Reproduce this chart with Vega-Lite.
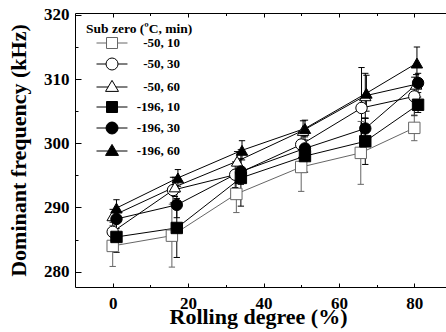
{
  "$schema": "https://vega.github.io/schema/vega-lite/v6.json",
  "width": 377,
  "height": 274,
  "autosize": {"type": "none"},
  "padding": {"left": 75, "top": 13, "right": 0, "bottom": 45},
  "background": "white",
  "config": {
    "font": "Times New Roman",
    "view": {"stroke": null},
    "axis": {
      "grid": false,
      "domainColor": "black",
      "tickColor": "black",
      "labelColor": "black",
      "titleColor": "black",
      "labelFont": "Times New Roman",
      "titleFont": "Times New Roman",
      "labelFontWeight": "bold",
      "titleFontWeight": "bold",
      "labelFontSize": 17,
      "titleFontSize": 22,
      "domainWidth": 1,
      "tickWidth": 1
    }
  },
  "data": {
    "values": [
      {"cond": "-50, 10", "time": "10", "x": 0, "y": 284.0, "lo": 280.8, "hi": 287.2},
      {"cond": "-50, 10", "time": "10", "x": 15.7, "y": 285.6, "lo": 280.7, "hi": 290.5},
      {"cond": "-50, 10", "time": "10", "x": 32.8, "y": 292.1, "lo": 289.2, "hi": 295.0},
      {"cond": "-50, 10", "time": "10", "x": 50, "y": 296.3, "lo": 292.5, "hi": 300.1},
      {"cond": "-50, 10", "time": "10", "x": 65.8, "y": 298.5, "lo": 293.6, "hi": 303.4},
      {"cond": "-50, 10", "time": "10", "x": 80, "y": 302.4, "lo": 300.4, "hi": 304.4},
      {"cond": "-50, 30", "time": "30", "x": 0, "y": 286.2, "lo": 284.2, "hi": 288.2},
      {"cond": "-50, 30", "time": "30", "x": 16, "y": 292.7, "lo": 290.7, "hi": 294.7},
      {"cond": "-50, 30", "time": "30", "x": 32.5, "y": 295.1, "lo": 293.1, "hi": 297.1},
      {"cond": "-50, 30", "time": "30", "x": 50, "y": 299.8, "lo": 297.8, "hi": 301.8},
      {"cond": "-50, 30", "time": "30", "x": 66, "y": 305.5, "lo": 299.2, "hi": 311.8},
      {"cond": "-50, 30", "time": "30", "x": 80, "y": 307.3, "lo": 304.3, "hi": 310.3},
      {"cond": "-50, 60", "time": "60", "x": 0, "y": 288.7, "lo": 287.7, "hi": 289.7},
      {"cond": "-50, 60", "time": "60", "x": 16.5, "y": 293.2, "lo": 291.7, "hi": 294.7},
      {"cond": "-50, 60", "time": "60", "x": 33, "y": 297.2, "lo": 295.7, "hi": 298.7},
      {"cond": "-50, 60", "time": "60", "x": 50.5, "y": 302.0, "lo": 300.5, "hi": 303.5},
      {"cond": "-50, 60", "time": "60", "x": 67, "y": 307.4, "lo": 303.9, "hi": 310.9},
      {"cond": "-50, 60", "time": "60", "x": 80.5, "y": 309.2, "lo": 307.7, "hi": 310.7},
      {"cond": "-196, 10", "time": "10", "x": 1, "y": 285.4, "lo": 283.0, "hi": 287.8},
      {"cond": "-196, 10", "time": "10", "x": 17, "y": 286.8, "lo": 282.2, "hi": 291.4},
      {"cond": "-196, 10", "time": "10", "x": 34, "y": 294.6, "lo": 290.2, "hi": 299.0},
      {"cond": "-196, 10", "time": "10", "x": 51, "y": 298.0, "lo": 295.5, "hi": 300.5},
      {"cond": "-196, 10", "time": "10", "x": 67, "y": 300.3, "lo": 296.7, "hi": 303.9},
      {"cond": "-196, 10", "time": "10", "x": 81, "y": 306.0, "lo": 304.8, "hi": 307.2},
      {"cond": "-196, 30", "time": "30", "x": 1, "y": 288.2, "lo": 286.7, "hi": 289.7},
      {"cond": "-196, 30", "time": "30", "x": 17, "y": 290.4, "lo": 288.4, "hi": 292.4},
      {"cond": "-196, 30", "time": "30", "x": 34, "y": 295.6, "lo": 293.6, "hi": 297.6},
      {"cond": "-196, 30", "time": "30", "x": 51, "y": 299.2, "lo": 297.2, "hi": 301.2},
      {"cond": "-196, 30", "time": "30", "x": 67, "y": 302.3, "lo": 300.7, "hi": 303.9},
      {"cond": "-196, 30", "time": "30", "x": 81, "y": 309.4, "lo": 307.9, "hi": 310.9},
      {"cond": "-196, 60", "time": "60", "x": 1, "y": 289.9, "lo": 288.6, "hi": 291.2},
      {"cond": "-196, 60", "time": "60", "x": 17.3, "y": 294.6, "lo": 293.3, "hi": 295.9},
      {"cond": "-196, 60", "time": "60", "x": 34.3, "y": 298.9, "lo": 297.4, "hi": 300.4},
      {"cond": "-196, 60", "time": "60", "x": 51, "y": 302.3, "lo": 301.0, "hi": 303.6},
      {"cond": "-196, 60", "time": "60", "x": 67.3, "y": 307.8, "lo": 305.0, "hi": 310.6},
      {"cond": "-196, 60", "time": "60", "x": 80.7, "y": 312.5, "lo": 310.0, "hi": 315.0}
    ]
  },
  "layer": [
    {
      "mark": {"type": "rule", "strokeWidth": 1},
      "encoding": {
        "x": {"field": "x", "type": "quantitative", "scale": {"domain": [-10, 90], "nice": false, "zero": false},
          "axis": {
            "orient": "bottom",
            "values": [0, 10, 20, 30, 40, 50, 60, 70, 80],
            "labelExpr": "datum.value % 20 === 0 ? datum.label : ''",
            "tickSize": {"condition": {"test": "datum.value % 20 === 0", "value": -4}, "value": -2.5},
            "labelPadding": 12,
            "title": "Rolling degree (%)",
            "titlePadding": -5,
            "titleX": 183
          }},
        "y": {"field": "lo", "type": "quantitative", "scale": {"domain": [277.6, 320.3], "nice": false, "zero": false},
          "axis": {
            "orient": "left",
            "values": [280, 285, 290, 295, 300, 305, 310, 315, 320],
            "labelExpr": "datum.value % 10 === 0 ? datum.label : ''",
            "tickSize": {"condition": {"test": "datum.value % 10 === 0", "value": -6}, "value": -3},
            "labelPadding": 12,
            "title": "Dominant frequency (kHz)",
            "titlePadding": 13
          }},
        "y2": {"field": "hi"},
        "stroke": {"field": "cond", "type": "nominal",
          "scale": {"domain": ["-50, 10", "-50, 30", "-50, 60", "-196, 10", "-196, 30", "-196, 60"],
                    "range": ["#666666", "#000000", "#000000", "#000000", "#000000", "#000000"]},
          "legend": {
            "title": "Sub zero (ºC, min)",
            "orient": "none",
            "legendX": 11,
            "legendY": 9,
            "titleFont": "Times New Roman",
            "titleFontSize": 13.5,
            "titleFontWeight": "bold",
            "titleColor": "black",
            "titlePadding": 1,
            "labelFont": "Times New Roman",
            "labelFontSize": 13,
            "labelFontWeight": "bold",
            "labelColor": "black",
            "labelAlign": "right",
            "labelOffset": 81,
            "symbolSize": 121,
            "symbolStrokeWidth": 1,
            "rowPadding": 5,
            "encode": {
              "symbols": {
                "update": {
                  "shape": {"signal": "datum.value === '-50, 10' || datum.value === '-196, 10' ? 'M0.73,0H2.55M4.55,0H6.36M2.55,-1H4.55V1H2.55Z' : (datum.value === '-50, 30' || datum.value === '-196, 30') ? 'M0.73,0H2.46M4.64,0H6.36M4.64,0A1.09,1.09 0 1,1 2.46,0A1.09,1.09 0 1,1 4.64,0Z' : 'M0.73,0H2.84M4.26,0H6.36M3.55,-1.2L4.73,0.8H2.37Z'"}
                }
              }
            }
          }}
      }
    },
    {
      "mark": {"type": "point", "shape": "stroke", "size": 40, "strokeWidth": 1, "opacity": 1, "filled": false},
      "encoding": {
        "x": {"field": "x", "type": "quantitative", "axis": null},
        "y": {"field": "lo", "type": "quantitative", "axis": null},
        "stroke": {"field": "cond", "type": "nominal"}
      }
    },
    {
      "mark": {"type": "point", "shape": "stroke", "size": 40, "strokeWidth": 1, "opacity": 1, "filled": false},
      "encoding": {
        "x": {"field": "x", "type": "quantitative", "axis": null},
        "y": {"field": "hi", "type": "quantitative", "axis": null},
        "stroke": {"field": "cond", "type": "nominal"}
      }
    },
    {
      "mark": {"type": "line", "strokeWidth": 1},
      "encoding": {
        "x": {"field": "x", "type": "quantitative", "axis": null},
        "y": {"field": "y", "type": "quantitative", "axis": null},
        "stroke": {"field": "cond", "type": "nominal"}
      }
    },
    {
      "mark": {"type": "point", "size": 130, "strokeWidth": 1, "opacity": 1},
      "encoding": {
        "x": {"field": "x", "type": "quantitative", "axis": null},
        "y": {"field": "y", "type": "quantitative", "axis": null},
        "shape": {"field": "time", "type": "nominal", "legend": null,
          "scale": {"domain": ["10", "30", "60"], "range": ["square", "circle", "triangle-up"]}},
        "fill": {"field": "cond", "type": "nominal",
          "scale": {"domain": ["-50, 10", "-50, 30", "-50, 60", "-196, 10", "-196, 30", "-196, 60"],
                    "range": ["#ffffff", "#ffffff", "#ffffff", "#000000", "#000000", "#000000"]}},
        "stroke": {"field": "cond", "type": "nominal"}
      }
    },
    {
      "mark": {"type": "point", "opacity": 0},
      "encoding": {
        "x": {"field": "x", "type": "quantitative",
          "axis": {
            "orient": "top",
            "values": [0, 10, 20, 30, 40, 50, 60, 70, 80],
            "labels": false,
            "title": null,
            "tickSize": {"condition": {"test": "datum.value % 20 === 0", "value": -4}, "value": -2.5}
          }},
        "y": {"field": "y", "type": "quantitative",
          "axis": {
            "orient": "right",
            "values": [280, 285, 290, 295, 300, 305, 310, 315, 320],
            "labels": false,
            "title": null,
            "tickSize": {"condition": {"test": "datum.value % 10 === 0", "value": -6}, "value": -3}
          }}
      }
    }
  ],
  "resolve": {"axis": {"x": "independent", "y": "independent"}}
}
